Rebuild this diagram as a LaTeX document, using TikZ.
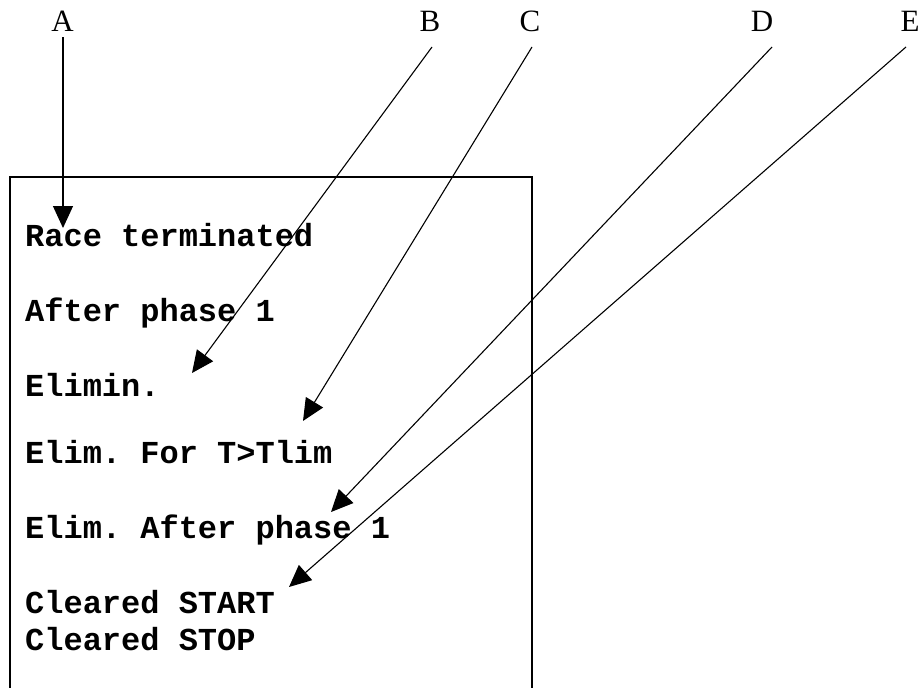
\documentclass[tikz,border=0pt]{standalone}
\usepackage{fontspec}
\setmainfont{Liberation Serif}
\newfontfamily\monob{Liberation Mono}
\usetikzlibrary{arrows.meta}
\tikzset{
  lbl/.style={anchor=base, inner sep=0pt, font=\fontsize{31}{37}\selectfont},
  txt/.style={anchor=base west, inner sep=0pt, font=\frenchspacing\monob\bfseries\fontsize{32}{38}\selectfont},
  arr/.style={line width=1.1pt, -{Triangle[length=22pt,width=20pt]}},
  frame/.style={line width=1.5pt}
}
\begin{document}
\begin{tikzpicture}[x=1pt,y=-1pt]
\clip (0,0) rectangle (921,688);
\fill[white] (0,0) rectangle (921,688);
% box (bottom edge outside the picture)
\draw[frame] (10,720) -- (10,177) -- (532,177) -- (532,720);
% labels
\node[lbl] (A) at (62.5,31) {A};
\node[lbl] (B) at (430,31) {B};
\node[lbl] (C) at (530,31) {C};
\node[lbl] (D) at (762,31) {D};
\node[lbl] (E) at (910,31) {E};
% texts
\node[txt] (t1) at (25,246) {Race terminated};
\node[txt] (t2) at (25,321) {After phase 1};
\node[txt] (t3) at (25,396) {Elimin.};
\node[txt] (t4) at (25,463) {Elim. For T>Tlim};
\node[txt] (t5) at (25,538) {Elim. After phase 1};
\node[txt] (t6) at (25,613) {Cleared START};
\node[txt] (t7) at (25,650) {Cleared STOP};
% arrow end points
\coordinate (sA) at (63,37);
\coordinate (sB) at (432,47);
\coordinate (sC) at (532,47);
\coordinate (sD) at (772,47);
\coordinate (sE) at (906,47);
\coordinate (eA) at (63,228);
\coordinate (eB) at (192,373);
\coordinate (eC) at (303,421);
\coordinate (eD) at (331,512);
\coordinate (eE) at (289,587);
\draw[arr] (sA) -- (eA);
\draw[arr] (sB) -- (eB);
\draw[arr] (sC) -- (eC);
\draw[arr] (sD) -- (eD);
\draw[arr] (sE) -- (eE);
\end{tikzpicture}
\end{document}
